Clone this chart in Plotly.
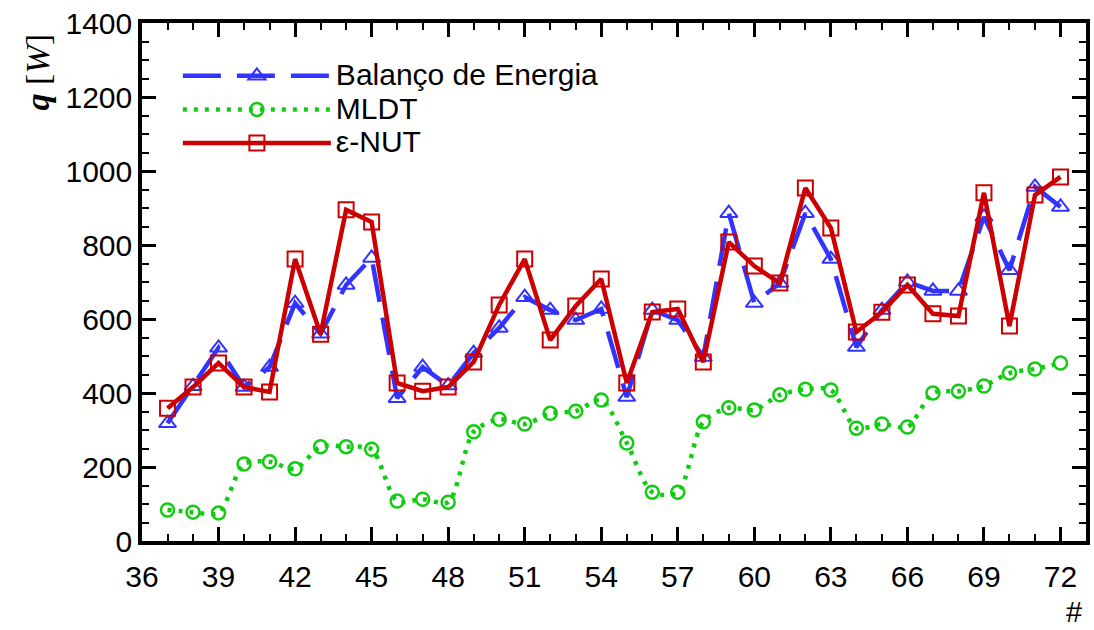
import plotly.graph_objects as go

ids = list(range(37, 73))

balanco = [318, 418, 522, 416, 470, 643, 560, 692, 765, 386, 470, 420, 508, 576, 659,
           624, 597, 627, 389, 624, 597, 497, 886, 643, 697, 886, 762, 524, 624, 700,
           676, 676, 876, 732, 957, 903]

mldt = [84, 78, 76, 208, 214, 195, 255, 255, 248, 108, 113, 105, 295, 329, 316,
        345, 351, 381, 265, 132, 132, 322, 360, 354, 395, 410, 408, 305, 316, 308,
        400, 405, 419, 454, 465, 481]

enut = [359, 416, 481, 416, 403, 762, 559, 895, 862, 427, 405, 416, 484, 638, 762,
        543, 635, 708, 427, 619, 627, 484, 808, 743, 697, 954, 846, 565, 618, 692,
        614, 608, 941, 581, 935, 984]

names = ["Balanço de Energia", "MLDT", "ε-NUT"]
x_ticks = list(range(36, 73, 3))
y_ticks = list(range(0, 1401, 200))

BLUE = "#3333ff"
GREEN = "#11cc11"
RED = "#cc0000"
FONT = "Liberation Sans"


def big(s):
    return '<span style="font-size:30px">' + s + '</span>'


fig = go.Figure()
fig.add_trace(go.Scatter(
    x=ids, y=balanco, name=big(names[0]), mode="lines+markers",
    line=dict(color=BLUE, width=4.5, dash="38px,16px"),
    marker=dict(symbol="triangle-up-open", size=15, color=BLUE, line=dict(width=2, color=BLUE)),
))
fig.add_trace(go.Scatter(
    x=ids, y=mldt, name=big(names[1]), mode="lines+markers",
    line=dict(color=GREEN, width=4.5, dash="4px,7px", shape="spline", smoothing=0.8),
    marker=dict(symbol="circle-open", size=13, color=GREEN, line=dict(width=2.5, color=GREEN)),
))
fig.add_trace(go.Scatter(
    x=ids, y=enut, name=big(names[2]), mode="lines+markers",
    line=dict(color=RED, width=4.5),
    marker=dict(symbol="square-open", size=15, color=RED, line=dict(width=2, color=RED)),
))

axis_common = dict(
    showline=True, linecolor="black", linewidth=3.5, mirror="allticks",
    ticks="inside", ticklen=14, tickwidth=3, tickcolor="black",
    showgrid=False, zeroline=False,
    tickfont=dict(family=FONT, size=30, color="black"),
)

fig.update_xaxes(
    range=[36, 73], tickvals=x_ticks, ticklabelstandoff=6,
    minor=dict(dtick=1, tick0=36, ticks="inside", ticklen=7, tickwidth=2, tickcolor="black", showgrid=False),
    **axis_common,
)
fig.update_yaxes(
    range=[0, 1400], tickvals=y_ticks,
    minor=dict(dtick=50, tick0=0, ticks="inside", ticklen=7, tickwidth=2, tickcolor="black", showgrid=False),
    **axis_common,
)

fig.add_annotation(
    text="<b><i>q</i></b> [<i>W</i>]", textangle=-90,
    xref="paper", yref="paper", x=-0.111, y=0.905, xanchor="center", yanchor="middle",
    showarrow=False,
    font=dict(family="Liberation Serif", size=34, color="black"),
)
fig.add_annotation(
    text="#", xref="paper", yref="paper", x=0.987, y=-0.137,
    xanchor="center", yanchor="middle", showarrow=False,
    font=dict(family=FONT, size=29, color="black"),
)

fig.update_layout(
    width=1094, height=630,
    margin=dict(l=142, r=4, t=23, b=89),
    paper_bgcolor="white", plot_bgcolor="white",
    showlegend=True,
    legend=dict(
        x=0.038, y=0.94, xanchor="left", yanchor="top",
        bgcolor="rgba(0,0,0,0)", itemwidth=148, tracegroupgap=0,
        font=dict(family=FONT, size=23.5, color="black"),
    ),
)

fig.write_html("out.html")
